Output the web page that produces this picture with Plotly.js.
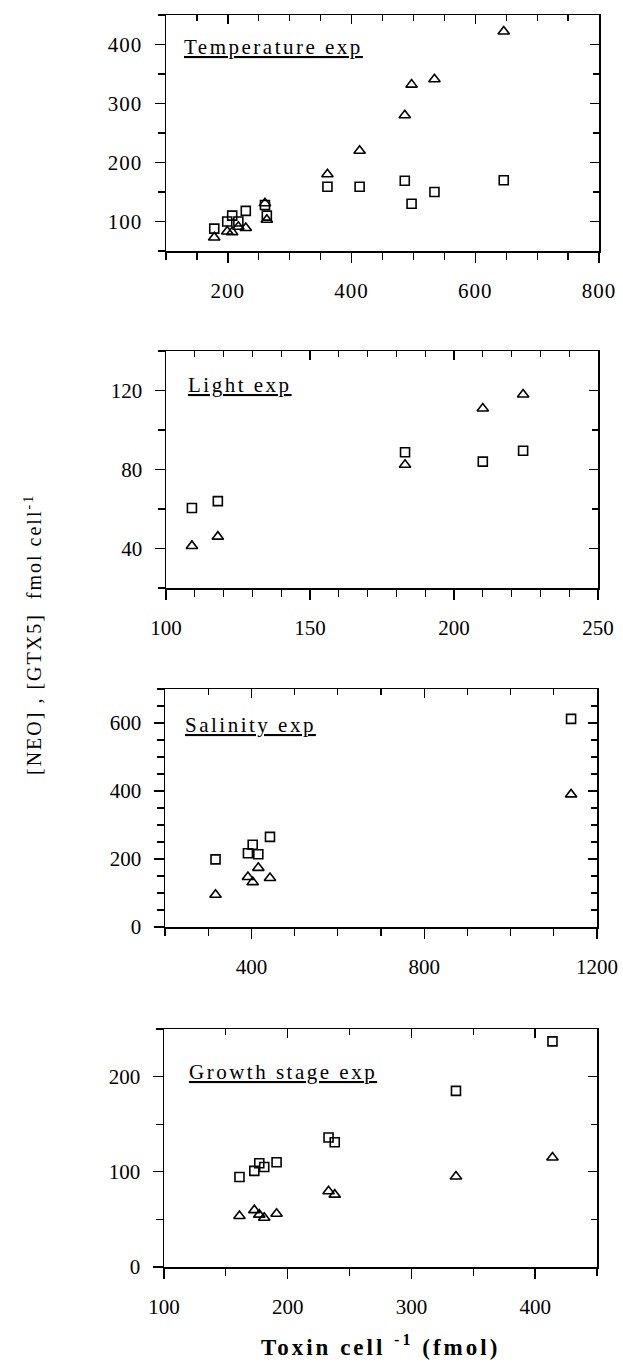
<!DOCTYPE html>
<html>
<head>
<meta charset="utf-8">
<script src="https://cdn.plot.ly/plotly-3.0.1.min.js"></script>
<style>
  html, body { margin: 0; padding: 0; background: #fff; }
  #chart { width: 623px; height: 1366px; }
  /* the reference uses a widely spaced typeface */
  #chart .xtick text, #chart .ytick text { letter-spacing: 1px; }
  #chart g.annotation[data-index="0"] text,
  #chart g.annotation[data-index="1"] text,
  #chart g.annotation[data-index="2"] text,
  #chart g.annotation[data-index="3"] text { letter-spacing: 2.5px; }
  #chart g.annotation[data-index="4"] text { letter-spacing: 2px; }
  #chart g.annotation[data-index="5"] text { letter-spacing: 3px; }
</style>
</head>
<body>
<div id="chart"></div>
<script>
// ---------- DATA ----------
// Temperature experiment
const tempToxin = [178, 199, 207, 217, 229, 260, 263, 361, 413, 486, 497, 534, 646];
const tempNEO   = [88, 100, 110, 100, 118, 128, 110, 159, 159, 169, 130, 150, 170];
const tempGTX5  = [73, 83, 82, 91, 89, 131, 103, 180, 220, 280, 332, 341, 422];

// Light experiment
const lightToxin = [109, 118, 183, 210, 224];
const lightNEO   = [60.5, 64, 88.7, 84, 89.5];
const lightGTX5  = [41.3, 46, 82.4, 110.9, 118];

// Salinity experiment
const salToxin = [317, 392, 403, 416, 443, 1140];
const salNEO   = [199, 217, 242, 214, 265, 612];
const salGTX5  = [95, 147, 132, 174, 144, 390];

// Growth stage experiment
const growthToxin = [161, 173, 177, 181, 191, 233, 238, 336, 414];
const growthNEO   = [94.5, 101, 109, 105, 110, 136, 131, 185, 237];
const growthGTX5  = [53.5, 59.7, 55, 51.8, 56, 79.5, 76, 95, 115];

const panelTitles = ['Temperature exp', 'Light exp', 'Salinity exp', 'Growth stage exp'];
const yAxisLabel = '[NEO] , [GTX5]  fmol cell<sup>-1</sup>';
const xAxisLabel = '<b>Toxin cell <sup>-1</sup> (fmol)</b>';

// ---------- LAYOUT HELPERS ----------
const W = 623, H = 1366;
const fx = p => p / W;
const fy = p => 1 - p / H;
const FONT = 'Liberation Serif, Times New Roman, serif';

const panels = [
  {x: tempToxin, sq: tempNEO, tri: tempGTX5, px: [166, 599], py: [15, 251],
   xr: [100, 800], xd: 200, xm: 50, yr: [50, 450], yd: 100, ym: 50, tx: 182, ty: 47},
  {x: lightToxin, sq: lightNEO, tri: lightGTX5, px: [166, 598], py: [351, 588],
   xr: [100, 250], xd: 50, xm: 10, yr: [20, 140], yd: 40, ym: 20, tx: 186, ty: 385},
  {x: salToxin, sq: salNEO, tri: salGTX5, px: [165, 597], py: [689, 927],
   xr: [200, 1200], xd: 400, xm: 100, yr: [0, 700], yd: 200, ym: 50, tx: 183, ty: 725},
  {x: growthToxin, sq: growthNEO, tri: growthGTX5, px: [164, 597], py: [1029, 1267],
   xr: [100, 450], xd: 100, xm: 50, yr: [0, 250], yd: 100, ym: 50, tx: 187, ty: 1072}
];

const traces = [];
const layout = {
  width: W, height: H, autosize: false,
  margin: {l: 0, r: 0, t: 0, b: 0},
  paper_bgcolor: '#fff', plot_bgcolor: '#fff',
  showlegend: false,
  font: {family: FONT, size: 20, color: '#000'},
  annotations: []
};

const tickFont = {family: FONT, size: 21, color: '#000'};

panels.forEach((p, i) => {
  const n = i + 1;
  const xa = n === 1 ? 'xaxis' : 'xaxis' + n;
  const ya = n === 1 ? 'yaxis' : 'yaxis' + n;
  const xid = n === 1 ? 'x' : 'x' + n;
  const yid = n === 1 ? 'y' : 'y' + n;
  const xm = 'xaxis' + (n + 4), ym = 'yaxis' + (n + 4);
  const xmid = 'x' + (n + 4), ymid = 'y' + (n + 4);
  const xdom = [fx(p.px[0]), fx(p.px[1])];
  const ydom = [fy(p.py[1]), fy(p.py[0])];

  const common = {showgrid: false, zeroline: false, showline: true,
    linecolor: '#000', linewidth: 1.5, tickcolor: '#000', tickwidth: 1.3, fixedrange: true};

  layout[xa] = Object.assign({}, common, {
    domain: xdom, anchor: yid, range: p.xr, tick0: 0, dtick: p.xd,
    ticks: 'outside', ticklen: 10, tickfont: tickFont, ticklabelstandoff: 10,
    minor: {dtick: p.xm, tick0: 0, ticks: 'outside', ticklen: 7, tickcolor: '#000', tickwidth: 1.2}
  });
  layout[ya] = Object.assign({}, common, {
    domain: ydom, anchor: xid, range: p.yr, tick0: 0, dtick: p.yd,
    ticks: 'outside', ticklen: 10, tickfont: tickFont, ticklabelstandoff: 8,
    minor: {dtick: p.ym, tick0: 0, ticks: 'outside', ticklen: 7, tickcolor: '#000', tickwidth: 1.2}
  });
  // mirror axes (top / right) with inward ticks
  layout[xm] = Object.assign({}, common, {
    overlaying: xid, anchor: ymid, side: 'top', range: p.xr, tick0: 0, dtick: p.xd,
    ticks: 'inside', ticklen: 9, showticklabels: false,
    minor: {dtick: p.xm, tick0: 0, ticks: 'inside', ticklen: 6, tickcolor: '#000', tickwidth: 1.2}
  });
  layout[ym] = Object.assign({}, common, {
    overlaying: yid, anchor: xmid, side: 'right', range: p.yr, tick0: 0, dtick: p.yd,
    ticks: 'inside', ticklen: 9, showticklabels: false,
    minor: {dtick: p.ym, tick0: 0, ticks: 'inside', ticklen: 6, tickcolor: '#000', tickwidth: 1.2}
  });

  traces.push({
    type: 'scatter', mode: 'markers', x: p.x, y: p.sq, xaxis: xid, yaxis: yid,
    name: '[NEO]', hoverinfo: 'x+y',
    marker: {symbol: 'square-open', size: 9, color: '#000', line: {width: 1.6, color: '#000'}}
  });
  traces.push({
    type: 'scatter', mode: 'markers', x: p.x, y: p.tri, xaxis: xid, yaxis: yid,
    name: '[GTX5]', hoverinfo: 'x+y',
    marker: {symbol: 'triangle-up-open', size: 10, color: '#000', line: {width: 1.6, color: '#000'}}
  });
  // empty trace so the mirror (frame) axes get drawn
  traces.push({
    type: 'scatter', mode: 'markers', x: [null], y: [null], xaxis: xmid, yaxis: ymid,
    hoverinfo: 'skip', showlegend: false, marker: {opacity: 0}
  });

  layout.annotations.push({
    text: '<u>' + panelTitles[i] + '</u>', xref: 'paper', yref: 'paper',
    x: fx(p.tx), y: fy(p.ty), xanchor: 'left', yanchor: 'middle', align: 'left',
    showarrow: false, font: {family: FONT, size: 21, color: '#000'}
  });
});

layout.annotations.push({
  text: yAxisLabel, xref: 'paper', yref: 'paper', x: fx(33), y: fy(635),
  xanchor: 'center', yanchor: 'middle', textangle: -90, showarrow: false,
  font: {family: FONT, size: 20, color: '#000'}
});
layout.annotations.push({
  text: xAxisLabel, xref: 'paper', yref: 'paper', x: fx(380), y: fy(1345),
  xanchor: 'center', yanchor: 'middle', showarrow: false,
  font: {family: FONT, size: 23, color: '#000'}
});

Plotly.newPlot('chart', traces, layout, {displayModeBar: false, staticPlot: true});
</script>
</body>
</html>
